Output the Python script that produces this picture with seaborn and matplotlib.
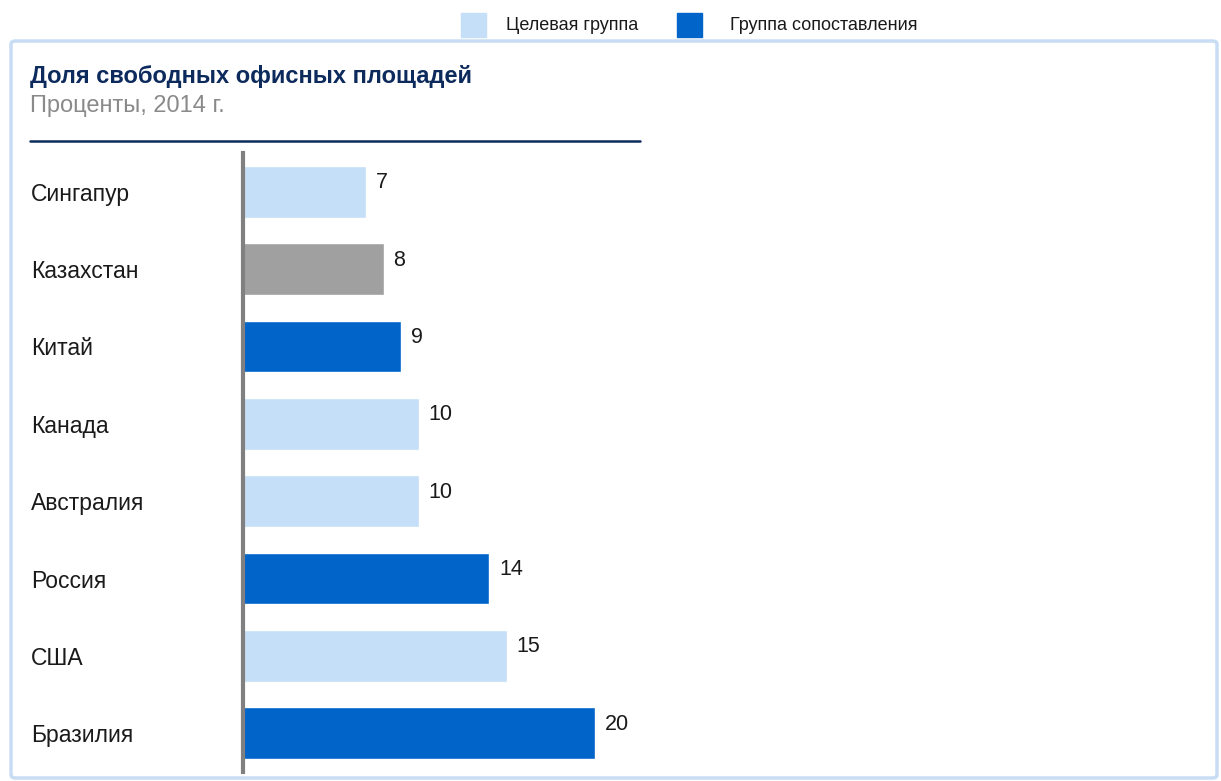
import matplotlib
matplotlib.use("Agg")
import matplotlib.pyplot as plt
from matplotlib.patches import FancyBboxPatch, Rectangle
from matplotlib.lines import Line2D
import seaborn as sns
import pandas as pd

# chart data
countries = ["Сингапур", "Казахстан", "Китай", "Канада", "Австралия", "Россия", "США", "Бразилия"]
vacancy = [7, 8, 9, 10, 10, 14, 15, 20]
groups = ["target", "kz", "compare", "target", "target", "compare", "target", "compare"]

legend_labels = ["Целевая группа", "Группа сопоставления"]
title = "Доля свободных офисных площадей"
subtitle = "Проценты, 2014 г."

colors = {"target": "#c6dff8", "compare": "#0064c8", "kz": "#a0a0a0"}

df = pd.DataFrame({"country": countries, "value": vacancy, "group": groups})

sns.set_style("white")
plt.rcParams["font.family"] = ["Liberation Sans", "DejaVu Sans"]

W, H = 1221, 781
fig = plt.figure(figsize=(W / 100, H / 100), dpi=100)

# axes placed in pixel terms
left, right, top, bottom = 243, 1200, 153, 772
ax = fig.add_axes([left / W, 1 - bottom / H, (right - left) / W, (bottom - top) / H])

sns.barplot(data=df, x="value", y="country", hue="group", palette=colors,
            dodge=False, width=0.67, legend=False, ax=ax, orient="h", saturation=1)

px_per_unit = 17.6
ax.set_xlim(0, (right - left) / px_per_unit)
ax.set_ylim(len(countries) - 0.5, -0.5)
ax.set_xlabel("")
ax.set_ylabel("")
ax.set_xticks([])

for s in ["top", "right", "bottom"]:
    ax.spines[s].set_visible(False)
ax.spines["left"].set_color("#808080")
ax.spines["left"].set_linewidth(3)

ax.tick_params(axis="y", length=0, pad=(left - 31) * 0.72, labelsize=16.5, labelcolor="#1a1a1a")
for lbl in ax.get_yticklabels():
    lbl.set_horizontalalignment("left")

for i, v in enumerate(vacancy):
    ax.annotate(str(v), xy=(v, i), xytext=(7, 6.5), textcoords="offset points",
                ha="left", va="center", fontsize=15.5, color="#1a1a1a")

# panel frame
frame = FancyBboxPatch((11 / W, 1 - 778 / H), (1217 - 11) / W, (778 - 41) / H,
                       boxstyle="round,pad=0,rounding_size=0.004",
                       transform=fig.transFigure, fill=False,
                       edgecolor="#c8ddf3", linewidth=2.5, zorder=0)
fig.patches.append(frame)

# title block
fig.text(30 / W, 1 - 77 / H, title, fontsize=17, fontweight="bold",
         color="#0d2a5c", ha="left", va="center")
fig.text(30 / W, 1 - 106 / H, subtitle, fontsize=17, color="#8a8a8a",
         ha="left", va="center")
fig.lines.append(Line2D([30 / W, 640 / W], [1 - 141 / H, 1 - 141 / H],
                        transform=fig.transFigure, color="#0d2a5c", linewidth=1.8))

# legend on top
for x0, key, text_x, lab in [(461, "target", 506, legend_labels[0]),
                             (677, "compare", 730, legend_labels[1])]:
    fig.patches.append(Rectangle((x0 / W, 1 - 37 / H), 25 / W, 24 / H,
                                 transform=fig.transFigure, color=colors[key]))
    fig.text(text_x / W, 1 - 25 / H, lab, fontsize=13, color="#1a1a1a",
             ha="left", va="center")

fig.savefig("out.png", dpi=100)
